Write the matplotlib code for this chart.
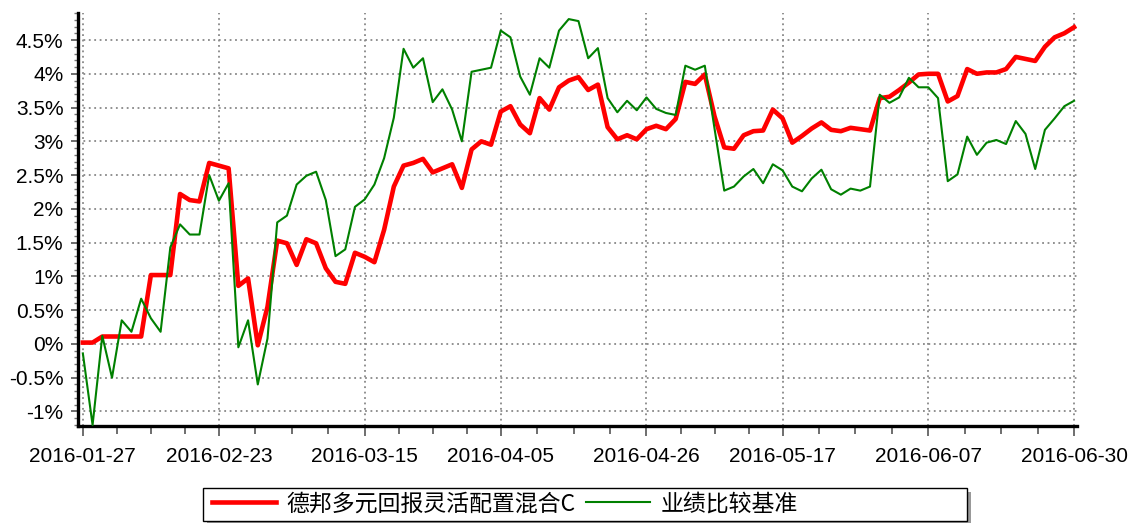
import matplotlib
matplotlib.use("Agg")
import matplotlib.pyplot as plt
from matplotlib.ticker import MultipleLocator, FuncFormatter, FixedLocator
from matplotlib.patches import Rectangle
from matplotlib.lines import Line2D

# ---- data (percent returns, one value per trading day) ----
fund_name = "德邦多元回报灵活配置混合C"
bench_name = "业绩比较基准"

fund = [
    0.02, 0.02, 0.11, 0.11, 0.11, 0.11, 0.11, 1.02, 1.02, 1.02,
    2.22, 2.13, 2.11, 2.68, 2.64, 2.60, 0.86, 0.97, -0.02, 0.55,
    1.53, 1.49, 1.17, 1.55, 1.49, 1.12, 0.92, 0.89, 1.35, 1.29,
    1.21, 1.69, 2.33, 2.64, 2.68, 2.74, 2.54, 2.60, 2.66, 2.31,
    2.88, 3.00, 2.95, 3.44, 3.52, 3.25, 3.12, 3.64, 3.47, 3.80,
    3.90, 3.95, 3.76, 3.84, 3.21, 3.03, 3.09, 3.03, 3.18, 3.23,
    3.18, 3.33, 3.88, 3.85, 3.99, 3.37, 2.91, 2.89, 3.09, 3.15,
    3.16, 3.47, 3.34, 2.98, 3.08, 3.19, 3.28, 3.17, 3.15, 3.20,
    3.18, 3.16, 3.64, 3.66, 3.76, 3.87, 3.99, 4.00, 4.00, 3.59,
    3.67, 4.07, 4.00, 4.02, 4.02, 4.07, 4.25, 4.22, 4.19, 4.40,
    4.54, 4.60, 4.69,
]

bench = [
    -0.14, -1.20, 0.12, -0.50, 0.35, 0.18, 0.67, 0.38, 0.18, 1.43,
    1.77, 1.62, 1.62, 2.50, 2.12, 2.38, -0.05, 0.35, -0.60, 0.08,
    1.80, 1.90, 2.36, 2.49, 2.55, 2.13, 1.30, 1.40, 2.03, 2.14,
    2.36, 2.75, 3.35, 4.37, 4.09, 4.23, 3.58, 3.77, 3.47, 3.00,
    4.03, 4.06, 4.09, 4.64, 4.54, 3.96, 3.69, 4.23, 4.09, 4.64,
    4.81, 4.78, 4.23, 4.38, 3.64, 3.43, 3.60, 3.46, 3.65, 3.48,
    3.42, 3.39, 4.12, 4.06, 4.12, 3.19, 2.27, 2.33, 2.48, 2.59,
    2.38, 2.66, 2.57, 2.33, 2.26, 2.45, 2.58, 2.29, 2.21, 2.30,
    2.27, 2.33, 3.69, 3.57, 3.65, 3.94, 3.80, 3.80, 3.64, 2.41,
    2.51, 3.07, 2.80, 2.98, 3.02, 2.96, 3.30, 3.11, 2.59, 3.17,
    3.34, 3.52, 3.60,
]

tick_labels = ["2016-01-27", "2016-02-23", "2016-03-15", "2016-04-05",
               "2016-04-26", "2016-05-17", "2016-06-07", "2016-06-30"]
tick_index = [0, 14, 29, 43, 58, 72, 87, 102]

# ---- figure ----
W, H = 1131, 523
fig = plt.figure(figsize=(W / 100, H / 100), dpi=100)
ax = fig.add_axes([78 / W, 97 / H, (1077 - 78) / W, (426 - 13) / H])

x = list(range(len(fund)))
ax.plot(x, fund, color="#ff0000", lw=3.3, zorder=3, solid_joinstyle="round")
ax.plot(x, bench, color="#008000", lw=1.5, zorder=4)

ax.set_xlim(-0.5, 102.3)
ax.set_ylim(-1.215, 4.9)

# y axis
ax.yaxis.set_major_locator(MultipleLocator(0.5))
ax.yaxis.set_minor_locator(MultipleLocator(0.1))
ax.yaxis.set_major_formatter(FuncFormatter(lambda v, p: f"{round(v, 2):g}%"))

# x axis
ax.xaxis.set_major_locator(FixedLocator(tick_index))
minor = []
for a, b in zip(tick_index[:-1], tick_index[1:]):
    for k in (1, 2, 3):
        minor.append(a + (b - a) * k / 4)
ax.xaxis.set_minor_locator(FixedLocator(minor))
ax.set_xticklabels(tick_labels)

for s in ("top", "right"):
    ax.spines[s].set_visible(False)
for s in ("left", "bottom"):
    ax.spines[s].set_linewidth(2.4)
    ax.spines[s].set_color("black")

for lab in ax.get_xticklabels() + ax.get_yticklabels():
    lab.set_fontfamily(["Liberation Sans", "DejaVu Sans"])
    lab.set_fontsize(15)

ax.tick_params(axis="x", which="major", length=7, width=1.2, color="#555555", pad=8)
ax.tick_params(axis="x", which="minor", length=6, width=1.2, color="#555555")
ax.tick_params(axis="y", which="major", length=5, width=1.2, color="#555555", pad=5.5)
ax.tick_params(axis="y", which="minor", length=3, width=1.0, color="#777777")

ax.grid(True, which="major", axis="both", color="#888888", linestyle=(0, (1, 2)), linewidth=1.3)
ax.set_axisbelow(True)

# ---- legend with box and shadow ----
shadow = Rectangle((207 / W, -2 / H), (967 - 203) / W, 33 / H, transform=fig.transFigure,
                   facecolor="#999999", edgecolor="none", zorder=1)
box = Rectangle((203 / W, 2 / H), (967 - 203) / W, 33 / H, transform=fig.transFigure,
                facecolor="white", edgecolor="black", linewidth=1.0, zorder=2)
fig.patches.extend([shadow, box])

handles = [Line2D([], [], color="#ff0000", lw=3.3), Line2D([], [], color="#008000", lw=1.5)]
leg = fig.legend(handles, [fund_name, bench_name], loc="center left",
                 bbox_to_anchor=(212 / W, 19 / H), ncol=2, frameon=False,
                 prop=dict(family=["Noto Sans CJK SC", "DejaVu Sans"], size=16.5),
                 handlelength=2.8, handletextpad=0.45, columnspacing=0.45,
                 borderpad=0, borderaxespad=0)
leg.set_zorder(5)

fig.savefig("out.png", dpi=100)
